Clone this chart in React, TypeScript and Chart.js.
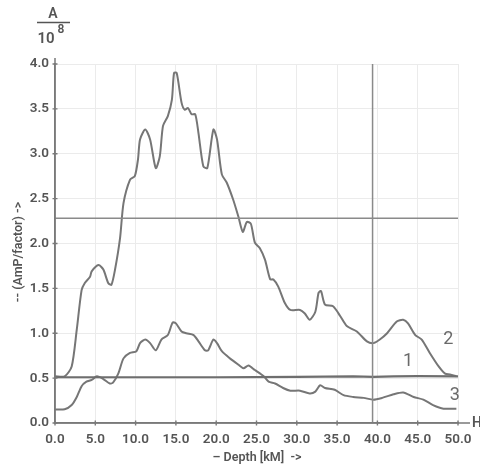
import React, { useEffect, useRef } from "react";
import { Chart, registerables } from "chart.js";

Chart.register(...registerables);

const xTicks = [0, 5, 10, 15, 20, 25, 30, 35, 40, 45, 50];
const yTicks = [0, 0.5, 1, 1.5, 2, 2.5, 3, 3.5, 4];

const curve1: number[][] = [
  [0, 0.51], [10, 0.51], [20, 0.51], [30, 0.515], [37, 0.52], [39.5, 0.515], [42, 0.52], [45, 0.522], [50, 0.52],
];

const curve2: number[][] = [
  [0, 0.52], [1.2, 0.52], [2.07, 0.63], [2.7, 1.04], [3.3, 1.48], [3.7, 1.56], [4.35, 1.63], [4.55, 1.69],
  [5.4, 1.76], [6.0, 1.71], [6.6, 1.56], [7.0, 1.54], [7.45, 1.71], [8.07, 2.06], [8.5, 2.45], [9.3, 2.71],
  [9.9, 2.75], [10.3, 2.94], [10.55, 3.16], [11.2, 3.27], [11.8, 3.16], [12.5, 2.84], [13.0, 2.97], [13.4, 3.31],
  [14.0, 3.42], [14.5, 3.6], [14.77, 3.9], [15.1, 3.9], [15.7, 3.57], [16.1, 3.49], [16.5, 3.51], [16.95, 3.44],
  [17.4, 3.44], [17.8, 3.23], [18.4, 2.86], [18.9, 2.84], [19.65, 3.27], [20.1, 3.16], [20.7, 2.77], [21.3, 2.68],
  [22.1, 2.49], [22.75, 2.3], [23.3, 2.13], [23.8, 2.24], [24.3, 2.22], [24.8, 2.01], [25.4, 1.95], [26.05, 1.82],
  [26.7, 1.6], [27.1, 1.6], [27.7, 1.52], [28.5, 1.34], [29.2, 1.26], [30.4, 1.26], [31.0, 1.22], [31.6, 1.15],
  [32.3, 1.24], [32.7, 1.45], [33.0, 1.47], [33.5, 1.32], [34.5, 1.3], [35.4, 1.19], [36.2, 1.08], [37.45, 1.02],
  [38.7, 0.91], [39.5, 0.89], [40.3, 0.93], [41.2, 1.0], [42.4, 1.13], [43.2, 1.15], [43.8, 1.11], [44.7, 0.98],
  [45.5, 0.93], [46.5, 0.78], [47.6, 0.63], [48.4, 0.55], [49.0, 0.54], [49.8, 0.52],
];

const curve3: number[][] = [
  [0, 0.15], [1.2, 0.153], [2.07, 0.2], [2.7, 0.29], [3.3, 0.41], [3.9, 0.46], [4.55, 0.48], [5.2, 0.52],
  [6.0, 0.49], [6.8, 0.44], [7.2, 0.45], [7.85, 0.55], [8.5, 0.72], [9.3, 0.78], [10.1, 0.8], [10.55, 0.89],
  [11.2, 0.93], [11.8, 0.89], [12.5, 0.81], [13.2, 0.93], [14.0, 0.98], [14.6, 1.12], [15.0, 1.11], [15.7, 1.02],
  [16.3, 1.0], [17.2, 0.98], [17.8, 0.91], [18.6, 0.81], [19.0, 0.81], [19.65, 0.93], [20.1, 0.89], [20.7, 0.8],
  [21.7, 0.72], [22.75, 0.65], [23.4, 0.61], [24.0, 0.64], [24.8, 0.59], [25.9, 0.52], [26.5, 0.46], [27.3, 0.44],
  [28.3, 0.39], [29.2, 0.36], [30.4, 0.36], [31.6, 0.33], [32.3, 0.35], [32.9, 0.42], [33.5, 0.39], [34.7, 0.37],
  [35.8, 0.31], [37.0, 0.29], [38.3, 0.28], [39.5, 0.26], [40.6, 0.28], [42.0, 0.32], [43.2, 0.34], [44.5, 0.29],
  [45.7, 0.26], [46.9, 0.2], [48.2, 0.16], [49.8, 0.16],
];

const hCursor: number[][] = [[0, 2.28], [50, 2.28]];
const vCursor: number[][] = [[39.4, 0], [39.4, 4.0]];

const curveLabels: { text: string; x: number; y: number }[] = [
  { text: "2", x: 48.8, y: 0.93 },
  { text: "1", x: 43.8, y: 0.68 },
  { text: "3", x: 49.6, y: 0.31 },
];

const xTitle = "– Depth [kM]  ->";
const yTitle = "-- (AmP/factor) ->";

const toPts = (a: number[][]) => a.map(([x, y]) => ({ x, y }));

const FONT = "Roboto, 'Noto Sans', sans-serif";
const TXT = "#555555";
const AXIS = "#7a7a7a";

const decor = {
  id: "decor",
  afterDraw(chart: any) {
    const { ctx, scales, chartArea } = chart;
    const xs = scales.x, ys = scales.y;
    ctx.save();
    // axis extensions
    ctx.strokeStyle = AXIS;
    ctx.lineWidth = 1.5;
    ctx.beginPath();
    ctx.moveTo(chartArea.left, chartArea.bottom);
    ctx.lineTo(470, chartArea.bottom);
    ctx.moveTo(chartArea.left, chartArea.bottom);
    ctx.lineTo(chartArea.left, chartArea.top - 6);
    ctx.stroke();
    // small tick crosses
    ctx.lineWidth = 1.4;
    ctx.beginPath();
    xTicks.forEach((v) => {
      const px = xs.getPixelForValue(v);
      ctx.moveTo(px, chartArea.bottom - 2.5);
      ctx.lineTo(px, chartArea.bottom + 2.5);
    });
    yTicks.forEach((v) => {
      const py = ys.getPixelForValue(v);
      ctx.moveTo(chartArea.left - 2.5, py);
      ctx.lineTo(chartArea.left + 2.5, py);
    });
    ctx.stroke();
    // H label
    ctx.fillStyle = TXT;
    ctx.font = `600 14px ${FONT}`;
    ctx.textBaseline = "middle";
    ctx.textAlign = "left";
    ctx.fillText("H", 472, chartArea.bottom);
    // curve labels
    ctx.font = `18px ${FONT}`;
    ctx.fillStyle = "#6a6a6a";
    ctx.textAlign = "center";
    curveLabels.forEach((l) => {
      ctx.fillText(l.text, xs.getPixelForValue(l.x), ys.getPixelForValue(l.y));
    });
    // x title
    ctx.fillStyle = TXT;
    ctx.font = `600 12.5px ${FONT}`;
    ctx.fillText(xTitle, 257, 458);
    // y title
    ctx.save();
    ctx.translate(19, 252);
    ctx.rotate(-Math.PI / 2);
    ctx.fillText(yTitle, 0, 0);
    ctx.restore();
    // A / 10^8
    ctx.font = `600 14px ${FONT}`;
    ctx.fillText("A", 53, 14);
    ctx.strokeStyle = "#555";
    ctx.lineWidth = 1.3;
    ctx.beginPath();
    ctx.moveTo(37, 22.5);
    ctx.lineTo(70, 22.5);
    ctx.stroke();
    ctx.font = `600 15px ${FONT}`;
    ctx.fillText("10", 46, 39);
    ctx.font = `600 12px ${FONT}`;
    ctx.fillText("8", 61, 30);
    ctx.restore();
  },
};

export default function App() {
  const ref = useRef<HTMLCanvasElement>(null);
  useEffect(() => {
    if (!ref.current) return;
    const line = (data: number[][], color: string, width: number, tension = 0.25) => ({
      data: toPts(data),
      borderColor: color,
      borderWidth: width,
      pointRadius: 0,
      showLine: true,
      tension,
      fill: false,
    });
    const chart = new Chart(ref.current, {
      type: "scatter",
      data: {
        datasets: [
          line(hCursor, "#8a8a8a", 1.5, 0),
          line(vCursor, "#8a8a8a", 1.5, 0),
          line(curve1, "#6e6e6e", 2.2, 0),
          line(curve3, "#767676", 2, 0.25),
          line(curve2, "#767676", 2, 0.25),
        ] as any,
      },
      options: {
        animation: false,
        responsive: false,
        devicePixelRatio: 1,
        layout: { padding: { left: 0, top: 64, right: 22, bottom: 0 } },
        plugins: { legend: { display: false }, tooltip: { enabled: false } },
        scales: {
          x: {
            type: "linear",
            min: 0,
            max: 50,
            afterFit: (s: any) => { s.height = 43; },
            afterBuildTicks: (s: any) => { s.ticks = xTicks.map((v) => ({ value: v })); },
            ticks: {
              callback: (v: any) => Number(v).toFixed(1),
              color: TXT,
              font: { family: FONT, size: 13.5, weight: 600 as any },
              padding: 5,
              maxRotation: 0,
            },
            grid: { color: "#ebebeb", lineWidth: 1, drawTicks: true, tickLength: 4, tickColor: "rgba(0,0,0,0)" },
            border: { color: AXIS, width: 1.5 },
          },
          y: {
            type: "linear",
            min: 0,
            max: 4,
            afterFit: (s: any) => { s.width = 55; },
            afterBuildTicks: (s: any) => { s.ticks = yTicks.map((v) => ({ value: v })); },
            ticks: {
              callback: (v: any) => Number(v).toFixed(1),
              color: TXT,
              font: { family: FONT, size: 13.5, weight: 600 as any },
              padding: 3,
            },
            grid: { color: "#ebebeb", lineWidth: 1, drawTicks: true, tickLength: 3, tickColor: "rgba(0,0,0,0)" },
            border: { color: AXIS, width: 1.5 },
          },
        },
      },
      plugins: [decor],
    });
    return () => chart.destroy();
  }, []);
  return (
    <div style={{ position: "absolute", left: 0, top: 0, width: 480, height: 466, background: "#fff" }}>
      <canvas ref={ref} width={480} height={466} style={{ display: "block" }} />
    </div>
  );
}
